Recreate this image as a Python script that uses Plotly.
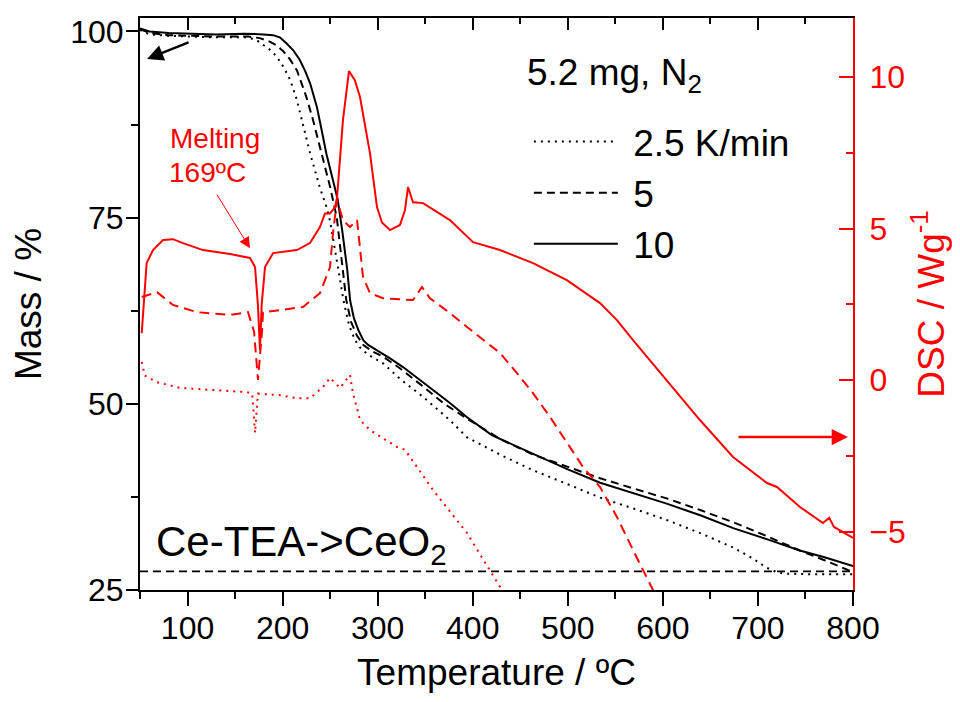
import plotly.graph_objects as go

# ---------------- data ----------------
# Mass curves (left axis, %)
T_m10 = [50, 60, 80, 100, 130, 160, 172, 180, 190, 197, 204, 211, 218, 224, 229, 236, 241, 246, 253, 258, 263, 268, 271, 275, 280, 285, 290, 299, 313, 327, 355, 376, 394, 420, 463, 500, 534, 570, 604, 640, 674, 710, 744, 770, 800]
M_m10 = [100.4, 100.0, 99.8, 99.7, 99.6, 99.7, 99.7, 99.6, 99.5, 99.2, 98.4, 97.5, 96.2, 94.6, 93.0, 89.9, 86.8, 83.6, 80.0, 77.4, 73.0, 68.0, 63.9, 61.5, 59.8, 58.5, 57.9, 57.2, 56.1, 54.9, 52.2, 50.1, 48.2, 45.8, 43.3, 41.2, 39.4, 38.0, 36.6, 35.0, 33.3, 31.8, 30.3, 29.4, 28.2]

T_m5 = [50, 60, 80, 100, 130, 164, 176, 187, 194, 201, 208, 215, 225, 232, 239, 245, 250, 257, 262, 267, 272, 278, 285, 295, 306, 323, 348, 370, 394, 430, 463, 500, 534, 570, 604, 640, 674, 710, 744, 770, 800]
M_m5 = [100.3, 99.8, 99.5, 99.4, 99.3, 99.3, 99.1, 98.6, 98.1, 97.3, 96.2, 94.8, 91.2, 88.1, 84.5, 81.5, 79.1, 75.0, 69.5, 63.9, 61.0, 59.2, 57.9, 57.0, 56.3, 54.8, 52.3, 50.0, 48.0, 45.2, 43.2, 41.5, 40.0, 38.6, 37.3, 35.7, 34.1, 32.2, 30.3, 29.0, 27.4]

T_m25 = [50, 60, 80, 100, 130, 160, 166, 173, 180, 187, 194, 201, 208, 215, 222, 229, 239, 246, 250, 255, 260, 264, 270, 276, 281, 290, 306, 323, 348, 376, 394, 430, 463, 500, 534, 570, 604, 640, 674, 695, 709, 720, 727, 760, 800]
M_m25 = [100.2, 99.6, 99.4, 99.3, 99.2, 99.2, 99.1, 98.8, 98.2, 97.5, 96.6, 95.2, 93.5, 90.8, 87.2, 83.6, 79.1, 76.5, 74.5, 71.0, 67.0, 63.9, 60.5, 58.6, 57.6, 56.6, 55.4, 53.4, 50.9, 47.8, 45.5, 43.1, 41.1, 39.2, 37.4, 35.9, 34.4, 32.6, 30.7, 29.2, 28.0, 27.4, 27.2, 27.1, 27.1]

# CeO2 residual mass line
T_ceo2 = [50, 800]
M_ceo2 = [27.5, 27.5]

# DSC curves (right axis, W/g)
T_d10 = [51.8, 57, 63.7, 74.2, 84.7, 95.2, 116.3, 144.7, 165.7, 171, 174, 176.2, 178, 181.5, 190, 215, 228.8, 239.3, 244.6, 249.9, 255, 257.2, 263.5, 269.8, 276, 281.4, 291.9, 299.3, 304.5, 313, 323.5, 328.7, 331.9, 337.2, 347.7, 376, 400.3, 428.7, 463.4, 499, 533.9, 551.7, 568.6, 604.3, 639, 673.8, 709.5, 720, 744.2, 768.4, 775, 780, 800]
D_d10 = [1.55, 3.86, 4.29, 4.62, 4.65, 4.52, 4.29, 4.16, 4.03, 3.73, 2.5, 0.99, 2.5, 3.73, 4.19, 4.29, 4.52, 5.05, 5.5, 5.5, 5.7, 6.0, 8.58, 10.2, 9.9, 9.34, 7.49, 5.71, 5.2, 4.95, 5.12, 5.6, 6.37, 5.87, 5.84, 5.28, 4.55, 4.29, 3.86, 3.3, 2.54, 1.98, 1.32, 0.0, -1.32, -2.54, -3.4, -3.53, -4.19, -4.72, -4.55, -4.85, -5.21]

T_d5 = [51.8, 67.9, 84.7, 110, 144.7, 163.6, 170, 174.1, 178.3, 179.4, 197.3, 221.5, 239.3, 249.9, 253, 257.2, 263.5, 270.9, 278.3, 284.6, 291.9, 305.6, 337.2, 346.6, 355, 376, 394, 428.7, 446.5, 463.4, 481.3, 499, 516, 533.9, 551.7, 568.6, 589.6, 597]
D_d5 = [2.74, 2.9, 2.48, 2.24, 2.15, 2.24, 1.6, 0.0, 1.6, 2.24, 2.31, 2.41, 2.87, 3.73, 4.85, 5.94, 5.28, 5.05, 5.28, 3.4, 2.87, 2.7, 2.64, 3.07, 2.7, 2.21, 1.75, 0.89, 0.23, -0.43, -1.22, -2.08, -2.87, -3.53, -4.52, -5.61, -6.93, -7.5]

T_d25 = [51.8, 55, 67.9, 92, 126.8, 162.5, 168, 171, 174, 197.3, 215, 228.8, 242.5, 249.9, 260.4, 270.9, 274, 281.4, 291.9, 320.3, 328.7, 341.4, 358.2, 394, 428.7, 434]
D_d25 = [0.6, 0.15, -0.07, -0.26, -0.33, -0.4, -0.45, -1.75, -0.45, -0.5, -0.6, -0.6, -0.23, 0.07, -0.26, 0.17, -0.43, -1.32, -1.65, -2.21, -2.3, -2.87, -3.63, -5.05, -6.83, -7.2]

RATE_NAMES = ["2.5 K/min", "5", "10"]

X_TICKS = [100, 200, 300, 400, 500, 600, 700, 800]
Y_TICKS = [25, 50, 75, 100]
Y2_TICKS = [-5, 0, 5, 10]

X_RANGE = [50, 800]
Y_RANGE = [25, 101.8]
Y2_RANGE = [-6.93, 11.95]

# ---------------- figure ----------------
FONT = "Liberation Sans, Arial, sans-serif"
BLACK = "black"
RED = "#ff0000"

# page body has an 8px margin; size the figure to fit the 960x702 window
FIG_W, FIG_H = 944, 686
ML, MT = 132, 10
MR, MB = FIG_W - (853 - 8), FIG_H - (590 - 8)
PW, PH = FIG_W - ML - MR, FIG_H - MT - MB


def px(xpage):
    return (xpage - 8 - ML) / PW


def py(ypage):
    return (FIG_H - MB - (ypage - 8)) / PH


fig = go.Figure()

mass_sets = [(T_m25, M_m25, "2px,5px"), (T_m5, M_m5, "8px,5px"), (T_m10, M_m10, "solid")]
for (tx, my, dash), name in zip(mass_sets, RATE_NAMES):
    fig.add_trace(go.Scatter(x=tx, y=my, mode="lines", name="\u00a0" + name,
                             line=dict(color=BLACK, width=2, dash=dash),
                             yaxis="y"))

fig.add_trace(go.Scatter(x=T_ceo2, y=M_ceo2, mode="lines", showlegend=False,
                         line=dict(color=BLACK, width=1.8, dash="8px,5px"), yaxis="y"))

dsc_sets = [(T_d25, D_d25, "2px,5px"), (T_d5, D_d5, "10px,6px"), (T_d10, D_d10, "solid")]
for tx, dy, dash in dsc_sets:
    fig.add_trace(go.Scatter(x=tx, y=dy, mode="lines", showlegend=False,
                             line=dict(color=RED, width=2, dash=dash),
                             yaxis="y2"))

# hidden trace to draw top mirrored axis
fig.add_trace(go.Scatter(x=X_RANGE, y=[None, None], xaxis="x2", yaxis="y",
                         showlegend=False, hoverinfo="skip"))

fig.update_layout(
    width=FIG_W, height=FIG_H,
    margin=dict(l=ML, r=MR, t=MT, b=MB, autoexpand=False),
    plot_bgcolor="white", paper_bgcolor="white",
    font=dict(family=FONT, color=BLACK, size=32),
    showlegend=True,
    legend=dict(x=px(536) - 0.01, y=py(111), xanchor="left", yanchor="top",
                bgcolor="rgba(0,0,0,0)", borderwidth=0,
                font=dict(family=FONT, size=37, color=BLACK),
                itemwidth=84, tracegroupgap=0, traceorder="normal"),
    xaxis=dict(range=X_RANGE, tickvals=X_TICKS, ticks="outside", ticklen=14, tickwidth=2,
               tickcolor=BLACK, showline=True, linecolor=BLACK, linewidth=2,
               showgrid=False, zeroline=False, ticklabelstandoff=-5,
               tickfont=dict(size=32, family=FONT),
               title=dict(text="Temperature / ºC", font=dict(size=37, family=FONT), standoff=14),
               minor=dict(dtick=50, tick0=0, ticks="outside", ticklen=7, tickwidth=2, tickcolor=BLACK)),
    xaxis2=dict(range=X_RANGE, overlaying="x", side="top", tickvals=X_TICKS, ticks="inside",
                ticklen=12, tickwidth=2, tickcolor=BLACK, showline=True, linecolor=BLACK,
                linewidth=2, showticklabels=False, showgrid=False, zeroline=False,
                minor=dict(dtick=50, tick0=0, ticks="inside", ticklen=6, tickwidth=2, tickcolor=BLACK)),
    yaxis=dict(range=Y_RANGE, tickvals=Y_TICKS, ticks="outside", ticklen=12, tickwidth=2,
               tickcolor=BLACK, showline=True, linecolor=BLACK, linewidth=2,
               showgrid=False, zeroline=False, ticklabelstandoff=-4,
               tickfont=dict(size=32, family=FONT),
               title=dict(text="Mass / %", font=dict(size=37, family=FONT), standoff=18),
               minor=dict(dtick=12.5, tick0=25, ticks="outside", ticklen=7, tickwidth=2, tickcolor=BLACK)),
    yaxis2=dict(range=Y2_RANGE, overlaying="y", side="right", tickvals=Y2_TICKS,
                ticks="inside", ticklen=14, tickwidth=2, tickcolor=RED,
                showline=True, linecolor=RED, linewidth=2, showgrid=False, zeroline=False,
                ticklabelstandoff=8,
                tickfont=dict(size=32, family=FONT, color=RED),
                title=dict(text="DSC / Wg<sup>-1</sup>", font=dict(size=37, family=FONT, color=RED), standoff=18),
                minor=dict(dtick=2.5, tick0=0, ticks="inside", ticklen=7, tickwidth=2, tickcolor=RED)),
)

# text annotations
fig.add_annotation(xref="paper", yref="paper", x=px(525), y=py(75),
                   xanchor="left", yanchor="middle", showarrow=False,
                   text="5.2 mg, N<sub>2</sub>", font=dict(size=37, family=FONT, color=BLACK))
fig.add_annotation(xref="paper", yref="paper", x=px(154), y=py(544),
                   xanchor="left", yanchor="middle", showarrow=False,
                   text="Ce-TEA-&gt;CeO<sub>2</sub>", font=dict(size=42, family=FONT, color=BLACK))
fig.add_annotation(xref="paper", yref="paper", x=px(215), y=py(138),
                   xanchor="center", yanchor="middle", showarrow=False,
                   text="Melting", font=dict(size=28, family=FONT, color=RED))
fig.add_annotation(xref="paper", yref="paper", x=px(207), y=py(172),
                   xanchor="center", yanchor="middle", showarrow=False,
                   text="169ºC", font=dict(size=28, family=FONT, color=RED))

# arrows
fig.add_annotation(xref="x", yref="y", x=57.4, y=96.3, axref="x", ayref="y", ax=102.6, ay=98.6,
                   text="", showarrow=True, arrowhead=2, arrowsize=1.3, arrowwidth=2.5, arrowcolor=BLACK)
fig.add_annotation(xref="x", yref="y2", x=794.7, y=-1.88, axref="x", ayref="y2", ax=678, ay=-1.88,
                   text="", showarrow=True, arrowhead=2, arrowsize=1.3, arrowwidth=2.5, arrowcolor=RED)
fig.add_annotation(xref="x", yref="y2", x=165.7, y=4.35, axref="x", ayref="y2", ax=130, ay=6.17,
                   text="", showarrow=True, arrowhead=2, arrowsize=2.2, arrowwidth=1, arrowcolor=RED)

fig.write_html("out.html")
